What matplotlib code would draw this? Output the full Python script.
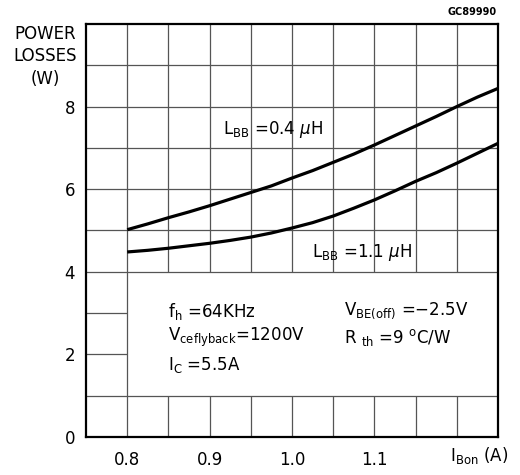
import matplotlib
matplotlib.use("Agg")
import matplotlib.pyplot as plt
import numpy as np

# Data (I_Bon in A, power losses in W)
i_bon = [0.800, 0.825, 0.850, 0.875, 0.900, 0.925, 0.950, 0.975, 1.000, 1.025,
         1.050, 1.075, 1.100, 1.125, 1.150, 1.175, 1.200, 1.225, 1.250]
loss_04uh = [5.02, 5.16, 5.31, 5.45, 5.60, 5.76, 5.92, 6.08, 6.27, 6.45,
             6.65, 6.85, 7.07, 7.30, 7.53, 7.76, 8.00, 8.23, 8.44]
loss_11uh = [4.48, 4.52, 4.57, 4.63, 4.69, 4.76, 4.84, 4.94, 5.06, 5.19,
             5.35, 5.54, 5.74, 5.96, 6.19, 6.40, 6.63, 6.87, 7.11]

x_ticks = [0.8, 0.9, 1.0, 1.1]
x_tick_labels = ["0.8", "0.9", "1.0", "1.1"]
y_ticks = [0, 2, 4, 6, 8]
y_tick_labels = ["0", "2", "4", "6", "8"]

FS = 12
GRID_C = "#555555"

fig = plt.figure(figsize=(5.2, 4.75), dpi=100)
ax = fig.add_axes([0.1654, 0.08, 0.7923, 0.8695])
ax.set_xlim(0.75, 1.25)
ax.set_ylim(0, 10)

# grid, leaving the box for the test conditions blank
xg = np.arange(0.8, 1.2501, 0.05)
for xv in xg[:-1]:
    if abs(xv - 0.8) < 1e-6:
        ax.vlines(xv, 0, 10, color=GRID_C, lw=0.9, zorder=1)
    else:
        ax.vlines(xv, 0, 1, color=GRID_C, lw=0.9, zorder=1)
        ax.vlines(xv, 4, 10, color=GRID_C, lw=0.9, zorder=1)
for yv in range(1, 10):
    if yv in (2, 3):
        ax.hlines(yv, 0.75, 0.8, color=GRID_C, lw=0.9, zorder=1)
    else:
        ax.hlines(yv, 0.75, 1.25, color=GRID_C, lw=0.9, zorder=1)

ax.plot(i_bon, loss_04uh, color="black", lw=2.3, zorder=3, solid_capstyle="butt")
ax.plot(i_bon, loss_11uh, color="black", lw=2.3, zorder=3, solid_capstyle="butt")

for s in ax.spines.values():
    s.set_linewidth(1.6)
    s.set_color("black")

ax.set_xticks(x_ticks)
ax.set_xticklabels(x_tick_labels)
ax.set_yticks(y_ticks)
ax.set_yticklabels(y_tick_labels)
ax.tick_params(length=0, labelsize=FS, colors="black")
ax.tick_params(axis="x", pad=10)
ax.tick_params(axis="y", pad=8)

# curve labels
ax.text(0.916, 7.44, r"L$_{\rm BB}$ =0.4 $\mu$H", fontsize=FS, va="center", ha="left")
ax.text(1.024, 4.46, r"L$_{\rm BB}$ =1.1 $\mu$H", fontsize=FS, va="center", ha="left")

# test conditions
ax.text(0.849, 3.05, r"f$_{\rm h}$ =64KHz", fontsize=FS, va="center", ha="left")
ax.text(0.849, 2.40, r"V$_{\rm ceflyback}$=1200V", fontsize=FS, va="center", ha="left")
ax.text(0.849, 1.75, r"I$_{\rm C}$ =5.5A", fontsize=FS, va="center", ha="left")
ax.text(1.0636, 3.05, r"V$_{\rm BE(off)}$ =$-$2.5V", fontsize=FS, va="center", ha="left")
ax.text(1.0636, 2.40, r"R $_{\rm th}$ =9 $^{\rm o}$C/W", fontsize=FS, va="center", ha="left")

# axis titles
fig.text(0.0865, 0.947, "POWER\nLOSSES\n(W)", fontsize=FS, ha="center", va="top",
         linespacing=1.3)
fig.text(0.865, 0.042, r"I$_{\rm Bon}$ (A)", fontsize=FS, ha="left", va="center")
fig.text(0.955, 0.975, "GC89990", fontsize=7, ha="right", va="center", fontweight="bold")

fig.savefig("out.png", dpi=100)
